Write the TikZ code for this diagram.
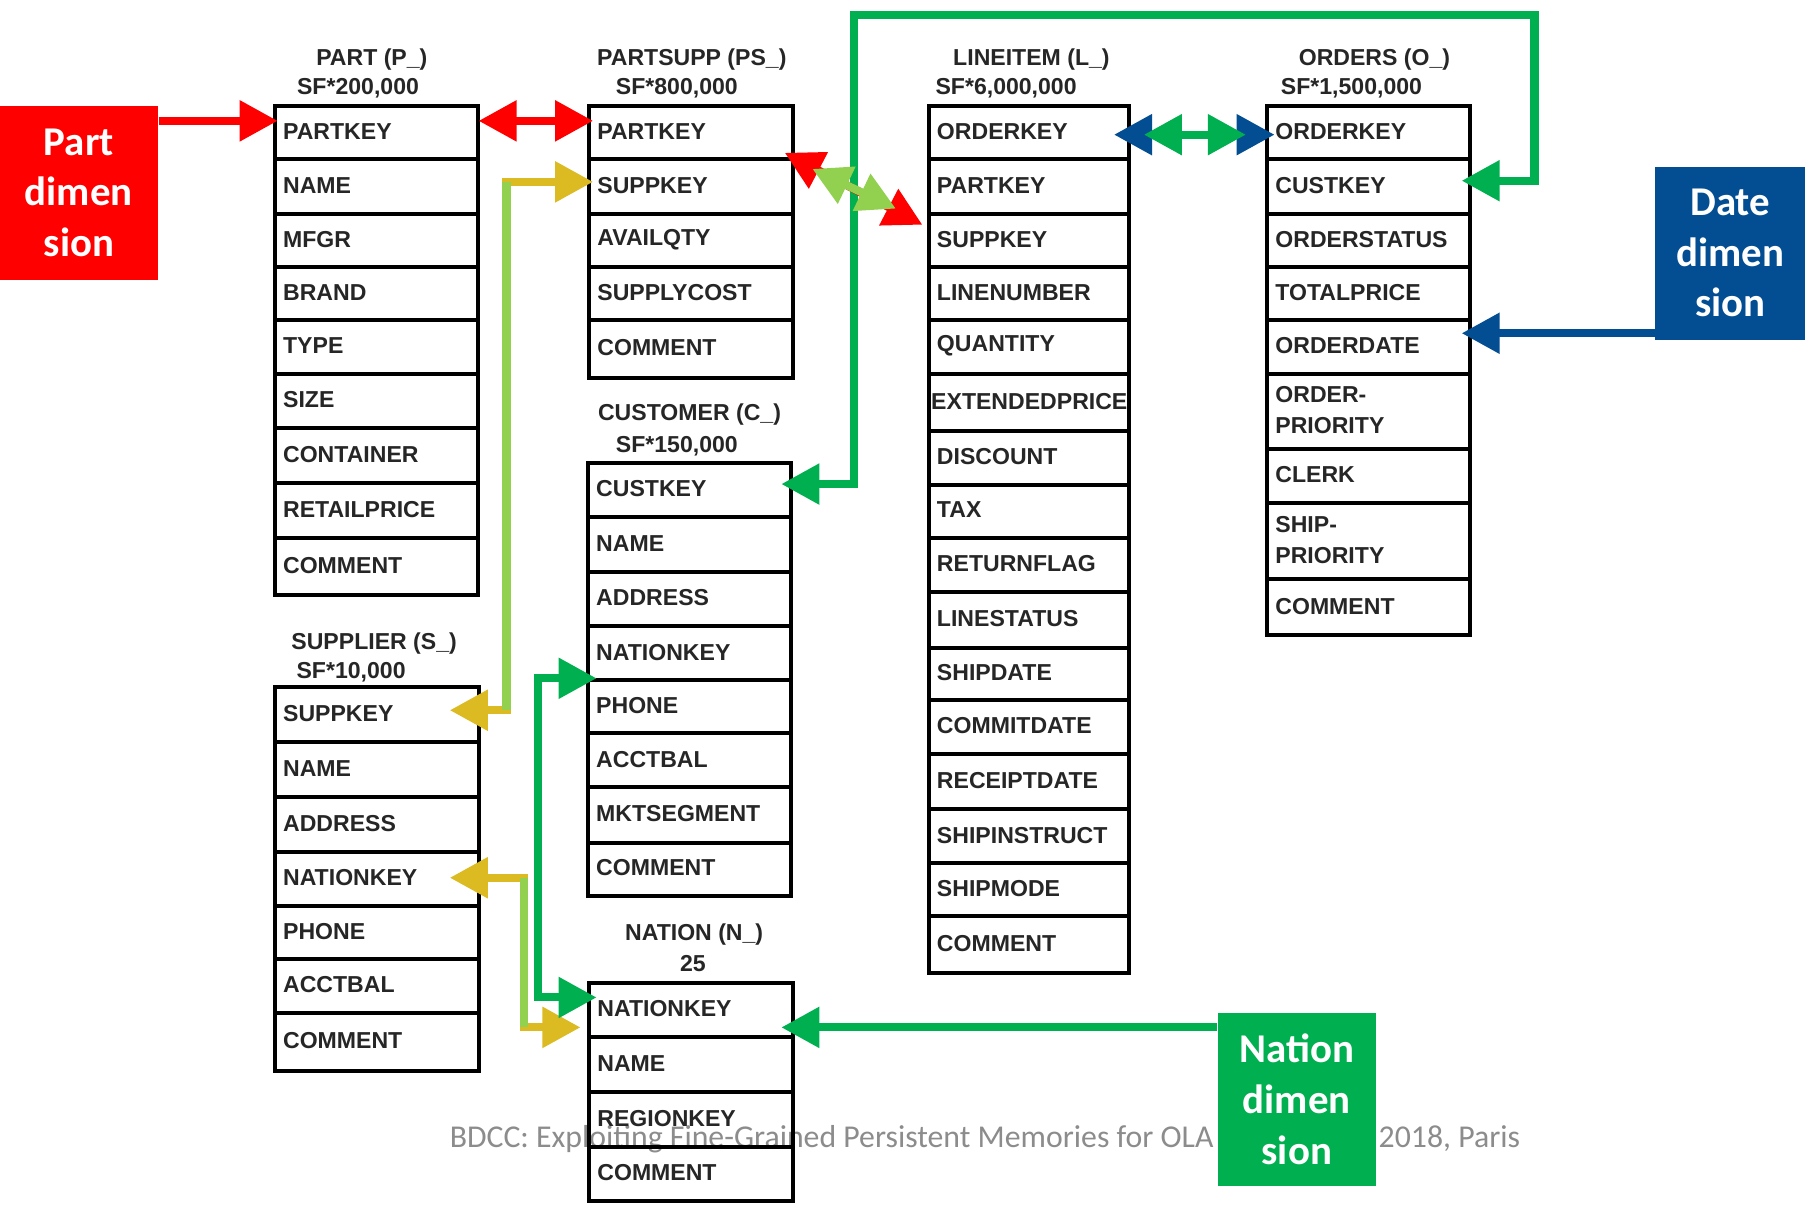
\documentclass[tikz,border=0pt]{standalone}
\usepackage{fontspec}
\setmainfont{Liberation Sans}
\newfontfamily\dimfont{Carlito}
\usetikzlibrary{arrows.meta,calc}

\definecolor{dimred}{RGB}{255,0,0}
\definecolor{dimgreen}{RGB}{0,176,80}
\definecolor{litegreen}{RGB}{146,208,80}
\definecolor{mustard}{RGB}{219,186,34}
\definecolor{dimblue}{RGB}{3,78,146}
\definecolor{footgray}{RGB}{140,140,140}
\definecolor{inkgray}{RGB}{38,38,38}

\tikzset{
  rowbox/.style={draw=black, line width=0.035cm, inner sep=0pt},
  rowtext/.style={font=\fontsize{5.7}{7.7}\selectfont\bfseries, text=inkgray,
    inner sep=0pt, align=left, anchor=west},
  titletext/.style={font=\fontsize{5.7}{7.7}\selectfont\bfseries, text=inkgray, inner sep=0pt},
  dimbox/.style={inner sep=0pt, text=white, align=center,
    font=\dimfont\bfseries\fontsize{10.1}{12.5}\selectfont},
  footer/.style={font=\dimfont\fontsize{7.85}{9}\selectfont, text=footgray,
    inner sep=0pt, anchor=base west},
  link/.style={line width=0.07cm},
  >={Triangle[length=3.3mm,width=3.4mm]}
}

% one field of a table: [text indent]{name}{x left}{x right}{y top}{y bottom}{label}
\newcommand\tabrow[7][8]{%
  \node[rowbox, minimum width={(#4-#3)*0.01cm}, minimum height={(#6-#5)*0.01cm}]
    (#2) at ({(#3+#4)/2},{(#5+#6)/2}) {};
  \node[rowtext] (#2-t) at ($(#2.west)+(#1,-1)$) {#7};
}

\begin{document}
\begin{tikzpicture}[x=0.01cm, y=-0.01cm]
\fill[white] (0,0) rectangle (1568,1046);
\useasboundingbox (0,0) rectangle (1568,1046);

% footer line of the slide
\node[footer] (foot-a) at (390,997) {BDCC: Exploiting Fine-Grained Persistent Memories for OLA};
\node[footer] (foot-b) at (1197,997) {2018, Paris};

% PART
\node[titletext] (p-title) at (323,52) {PART (P\_)};
\node[titletext] (p-sf) at (311,77) {SF*200,000};
\tabrow{p-partkey}{239}{415}{92}{138}{PARTKEY}
\tabrow{p-name}{239}{415}{138}{186}{NAME}
\tabrow{p-mfgr}{239}{415}{186}{232}{MFGR}
\tabrow{p-brand}{239}{415}{232}{278}{BRAND}
\tabrow{p-type}{239}{415}{278}{325}{TYPE}
\tabrow{p-size}{239}{415}{325}{372}{SIZE}
\tabrow{p-container}{239}{415}{372}{420}{CONTAINER}
\tabrow{p-retailprice}{239}{415}{420}{467}{RETAILPRICE}
\tabrow{p-comment}{239}{415}{467}{517}{COMMENT}

% PARTSUPP
\node[titletext] (ps-title) at (601,52) {PARTSUPP (PS\_)};
\node[titletext] (ps-sf) at (588,77) {SF*800,000};
\tabrow{ps-partkey}{512}{689}{92}{138}{PARTKEY}
\tabrow{ps-suppkey}{512}{689}{138}{186}{SUPPKEY}
\tabrow{ps-availqty}{512}{689}{186}{232}{AVAILQTY}
\tabrow{ps-supplycost}{512}{689}{232}{278}{SUPPLYCOST}
\tabrow{ps-comment}{512}{689}{278}{328}{COMMENT}

% LINEITEM
\node[titletext] (li-title) at (896,52) {LINEITEM (L\_)};
\node[titletext] (li-sf) at (874,77) {SF*6,000,000};
\tabrow{li-orderkey}{807}{981}{92}{138}{ORDERKEY}
\tabrow{li-partkey}{807}{981}{138}{186}{PARTKEY}
\tabrow{li-suppkey}{807}{981}{186}{232}{SUPPKEY}
\tabrow{li-linenumber}{807}{981}{232}{278}{LINENUMBER}
\tabrow{li-quantity}{807}{981}{278}{325}{QUANTITY}
\tabrow[3]{li-extendedprice}{807}{981}{325}{374}{EXTENDEDPRICE}
\tabrow{li-discount}{807}{981}{374}{421}{DISCOUNT}
\tabrow{li-tax}{807}{981}{421}{467}{TAX}
\tabrow{li-returnflag}{807}{981}{467}{514}{RETURNFLAG}
\tabrow{li-linestatus}{807}{981}{514}{563}{LINESTATUS}
\tabrow{li-shipdate}{807}{981}{563}{608}{SHIPDATE}
\tabrow{li-commitdate}{807}{981}{608}{655}{COMMITDATE}
\tabrow{li-receiptdate}{807}{981}{655}{703}{RECEIPTDATE}
\tabrow{li-shipinstruct}{807}{981}{703}{750}{SHIPINSTRUCT}
\tabrow{li-shipmode}{807}{981}{750}{796}{SHIPMODE}
\tabrow{li-comment}{807}{981}{796}{845}{COMMENT}

% ORDERS
\node[titletext] (o-title) at (1194,52) {ORDERS (O\_)};
\node[titletext] (o-sf) at (1174,77) {SF*1,500,000};
\tabrow{o-orderkey}{1101}{1277}{92}{138}{ORDERKEY}
\tabrow{o-custkey}{1101}{1277}{138}{186}{CUSTKEY}
\tabrow{o-orderstatus}{1101}{1277}{186}{232}{ORDERSTATUS}
\tabrow{o-totalprice}{1101}{1277}{232}{278}{TOTALPRICE}
\tabrow{o-orderdate}{1101}{1277}{278}{325}{ORDERDATE}
\tabrow{o-orderpriority}{1101}{1277}{325}{390}{ORDER-\\PRIORITY}
\tabrow{o-clerk}{1101}{1277}{390}{437}{CLERK}
\tabrow{o-shippriority}{1101}{1277}{437}{503}{SHIP-\\PRIORITY}
\tabrow{o-comment}{1101}{1277}{503}{552}{COMMENT}

% CUSTOMER
\node[titletext] (c-title) at (599,360) {CUSTOMER (C\_)};
\node[titletext] (c-sf) at (588,388) {SF*150,000};
\tabrow{c-custkey}{511}{687}{402}{449}{CUSTKEY}
\tabrow{c-name}{511}{687}{449}{497}{NAME}
\tabrow{c-address}{511}{687}{497}{544}{ADDRESS}
\tabrow{c-nationkey}{511}{687}{544}{591}{NATIONKEY}
\tabrow{c-phone}{511}{687}{591}{637}{PHONE}
\tabrow{c-acctbal}{511}{687}{637}{684}{ACCTBAL}
\tabrow{c-mktsegment}{511}{687}{684}{732}{MKTSEGMENT}
\tabrow{c-comment}{511}{687}{732}{778}{COMMENT}

% SUPPLIER
\node[titletext] (s-title) at (325,559) {SUPPLIER (S\_)};
\node[titletext] (s-sf) at (305,584) {SF*10,000};
\tabrow{s-suppkey}{239}{416}{597}{645}{SUPPKEY}
\tabrow{s-name}{239}{416}{645}{692}{NAME}
\tabrow{s-address}{239}{416}{692}{740}{ADDRESS}
\tabrow{s-nationkey}{239}{416}{740}{787}{NATIONKEY}
\tabrow{s-phone}{239}{416}{787}{833}{PHONE}
\tabrow{s-acctbal}{239}{416}{833}{880}{ACCTBAL}
\tabrow{s-comment}{239}{416}{880}{930}{COMMENT}

% NATION
\node[titletext] (n-title) at (603,812) {NATION (N\_)};
\node[titletext] (n-sf) at (602,837) {25};
\tabrow{n-nationkey}{512}{689}{854}{901}{NATIONKEY}
\tabrow{n-name}{512}{689}{901}{949}{NAME}
\tabrow{n-regionkey}{512}{689}{949}{996}{REGIONKEY}
\tabrow{n-comment}{512}{689}{996}{1043}{COMMENT}

% dimension boxes
\node[dimbox, fill=dimred, minimum width=1.37cm, minimum height=1.51cm]
  (partdim) at (68.5,167.5) {Part\\dimen\\sion};
\node[dimbox, fill=dimblue, minimum width=1.30cm, minimum height=1.50cm]
  (datedim) at (1503,220) {Date\\dimen\\sion};

% green loop CUSTOMER.CUSTKEY <-> ORDERS.CUSTKEY
\coordinate (ck-a) at ($(c-custkey.east)+(-10,-5)$);
\coordinate (ck-b) at ($(o-custkey.east)+(-9,-5)$);
\coordinate (loop-nw) at (742,13);
\coordinate (loop-ne) at (1333,13);
\draw[link, dimgreen, <->] (ck-a) -- (ck-a -| loop-nw) -- (loop-nw) -- (loop-ne)
  -- (loop-ne |- ck-b) -- (ck-b);

% Part dimension -> PART.PARTKEY
\coordinate (pd-tip) at ($(p-partkey.west)+(4,-10)$);
\draw[link, dimred, ->] (partdim.east |- pd-tip) -- (pd-tip);

% PART.PARTKEY <-> PARTSUPP.PARTKEY
\coordinate (pp-a) at ($(p-partkey.east)+(-1,-10)$);
\coordinate (pp-b) at ($(ps-partkey.west)+(5,-10)$);
\draw[link, dimred, <->] (pp-a) -- (pp-b);

% PARTSUPP.SUPPKEY <-> SUPPLIER.SUPPKEY
\coordinate (sk-a) at ($(ps-suppkey.west)+(5,-4)$);
\coordinate (sk-b) at ($(s-suppkey.east)+(-27,-4)$);
\coordinate (sk-rail) at (440,0);
\draw[link, mustard, <->] (sk-a) -- (sk-a -| sk-rail) -- (sk-b -| sk-rail) -- (sk-b);
\draw[link, litegreen] (sk-a -| sk-rail) -- (sk-b -| sk-rail);

% SUPPLIER.NATIONKEY <-> NATION.NATIONKEY
\coordinate (nk-a) at ($(s-nationkey.east)+(-27,-1)$);
\coordinate (nk-b) at ($(n-nationkey.west)+(-6,15)$);
\coordinate (nk-rail) at (455,0);
\draw[link, mustard, <->] (nk-a) -- (nk-a -| nk-rail) -- (nk-b -| nk-rail) -- (nk-b);
\draw[link, litegreen] (nk-a -| nk-rail) -- (nk-b -| nk-rail);

% CUSTOMER.NATIONKEY <-> NATION.NATIONKEY
\coordinate (cn-a) at ($(c-phone.north west)+(9,0)$);
\coordinate (cn-b) at ($(n-nationkey.west)+(8,-11)$);
\coordinate (cn-rail) at (467,0);
\draw[link, dimgreen, <->] (cn-a) -- (cn-a -| cn-rail) -- (cn-b -| cn-rail) -- (cn-b);

% LINEITEM.ORDERKEY <-> ORDERS.ORDERKEY
\coordinate (ok-a) at ($(li-orderkey.east)+(-15,2)$);
\coordinate (ok-b) at ($(o-orderkey.west)+(8,2)$);
\draw[link, dimblue, <->] (ok-a) -- (ok-b);
\coordinate (ok-c) at ($(li-orderkey.east)+(11,2)$);
\coordinate (ok-d) at ($(o-orderkey.west)+(-17,2)$);
\draw[link, dimgreen, <->] (ok-c) -- (ok-d);

% PARTSUPP <-> LINEITEM (part and supplier keys)
\coordinate (dg-a) at ($(ps-partkey.south east)+(-9,-7)$);
\coordinate (dg-b) at ($(li-suppkey.north west)+(-4,11)$);
\draw[link, dimred, <->] (dg-a) -- (dg-b);
\coordinate (dg-c) at ($(ps-partkey.south east)+(15,7)$);
\coordinate (dg-d) at ($(li-suppkey.north west)+(-27,-3)$);
\draw[link, litegreen, <->] (dg-c) -- (dg-d);

% Date dimension -> ORDERS.ORDERDATE
\coordinate (dt-tip) at ($(o-orderdate.east)+(-9,-12)$);
\draw[link, dimblue, ->] (datedim.west |- dt-tip) -- (dt-tip);

% Nation dimension -> NATION.NATIONKEY
\node[dimbox, fill=dimgreen, minimum width=1.37cm, minimum height=1.50cm]
  (nationdim) at (1126.5,955) {Nation\\dimen\\sion};
\coordinate (nd-tip) at ($(n-nationkey.east)+(-12,15)$);
\draw[link, dimgreen, ->] (nationdim.west |- nd-tip) -- (nd-tip);
\end{tikzpicture}
\end{document}
